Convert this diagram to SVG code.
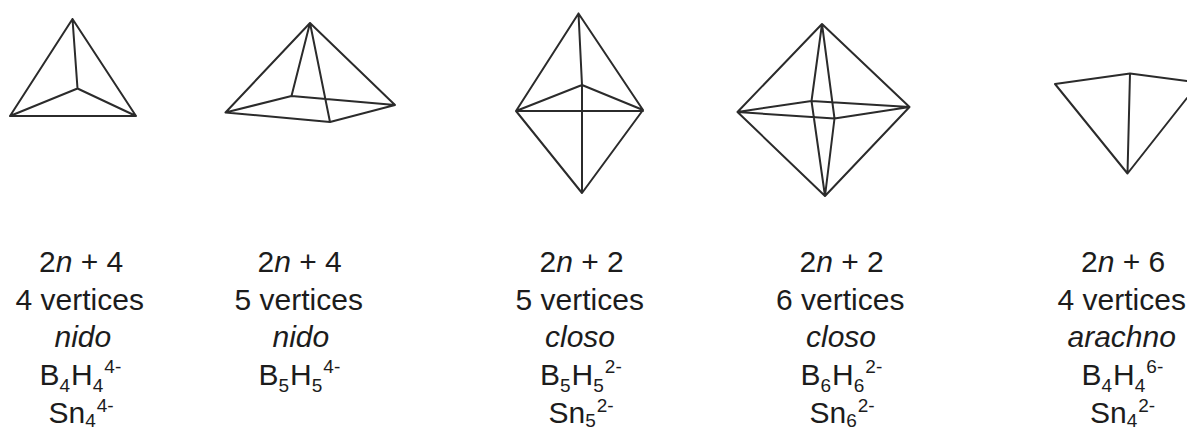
<svg xmlns="http://www.w3.org/2000/svg" width="1187" height="427" viewBox="0 0 1187 427">
<style>
.e{fill:none;stroke:#2b2b2b;stroke-width:2;stroke-linejoin:round;stroke-linecap:round}
text{font-family:"Liberation Sans",Arial,sans-serif;font-size:30px;fill:#1c1c1c}
.i{font-style:italic}
.s{font-size:19px}
</style>
<rect width="1187" height="427" fill="#fff"/>
<g id="shape-nido-4">
<path class="e" d="M72.500 19L10 116H136ZM72.500 19L77.500 88.500M10 116L77.500 88.500L136 116"/>
<text x="39" y="272">2<tspan class="i">n</tspan> + 4</text>
<text x="15.500" y="309.500">4 vertices</text>
<text class="i" x="54.500" y="347">nido</text>
<text x="39.500" y="385">B<tspan class="s" dy="6.700">4</tspan><tspan dx="1" dy="-6.700">H</tspan><tspan class="s" dy="6.700">4</tspan><tspan class="s" dx="1" dy="-18.700">4-</tspan></text>
<text x="48.500" y="422.500">Sn<tspan class="s" dy="4.200">4</tspan><tspan class="s" dx="1" dy="-14.700">4-</tspan></text>
</g>
<g id="shape-nido-5">
<path class="e" d="M310 23L225.500 112.500L330 122L395 105ZM225.500 112.500L291.500 96L395 105M310 23L291.500 96M310 23L330 122"/>
<text x="257.500" y="272">2<tspan class="i">n</tspan> + 4</text>
<text x="234.500" y="309.500">5 vertices</text>
<text class="i" x="272.500" y="347">nido</text>
<text x="258.500" y="385">B<tspan class="s" dy="6.700">5</tspan><tspan dx="1" dy="-6.700">H</tspan><tspan class="s" dy="6.700">5</tspan><tspan class="s" dx="1" dy="-18.700">4-</tspan></text>
</g>
<g id="shape-closo-5">
<path class="e" d="M578.500 13.500L516 111L582 193L643 110ZM516 111H643M516 111L582 85L643 110M578.500 13.500L582 85V193"/>
<text x="539.500" y="272">2<tspan class="i">n</tspan> + 2</text>
<text x="515.500" y="309.500">5 vertices</text>
<text class="i" x="545" y="347">closo</text>
<text x="540" y="385">B<tspan class="s" dy="6.700">5</tspan><tspan dx="1" dy="-6.700">H</tspan><tspan class="s" dy="6.700">5</tspan><tspan class="s" dx="1" dy="-18.700">2-</tspan></text>
<text x="548.500" y="422.500">Sn<tspan class="s" dy="4.200">5</tspan><tspan class="s" dx="1" dy="-14.700">2-</tspan></text>
</g>
<g id="shape-closo-6">
<path class="e" d="M822 24L737.500 112L825 196L909.500 107ZM737.500 112L811.500 101L909.500 107L834.500 118.500ZM822 24L811.500 101L825 196L834.500 118.500Z"/>
<text x="799.500" y="272">2<tspan class="i">n</tspan> + 2</text>
<text x="776" y="309.500">6 vertices</text>
<text class="i" x="806" y="347">closo</text>
<text x="800.500" y="385">B<tspan class="s" dy="6.700">6</tspan><tspan dx="1" dy="-6.700">H</tspan><tspan class="s" dy="6.700">6</tspan><tspan class="s" dx="1" dy="-18.700">2-</tspan></text>
<text x="809.500" y="422.500">Sn<tspan class="s" dy="4.200">6</tspan><tspan class="s" dx="1" dy="-14.700">2-</tspan></text>
</g>
<g id="shape-arachno-4">
<path class="e" d="M1187 81L1130 73.500L1055 84L1127.500 173.500L1187 98M1130 73.500L1127.500 173.500"/>
<text x="1081" y="272">2<tspan class="i">n</tspan> + 6</text>
<text x="1057.500" y="309.500">4 vertices</text>
<text class="i" x="1067.500" y="347">arachno</text>
<text x="1081.500" y="385">B<tspan class="s" dy="6.700">4</tspan><tspan dx="1" dy="-6.700">H</tspan><tspan class="s" dy="6.700">4</tspan><tspan class="s" dx="1" dy="-18.700">6-</tspan></text>
<text x="1090" y="422.500">Sn<tspan class="s" dy="4.200">4</tspan><tspan class="s" dx="1" dy="-14.700">2-</tspan></text>
</g>
</svg>
